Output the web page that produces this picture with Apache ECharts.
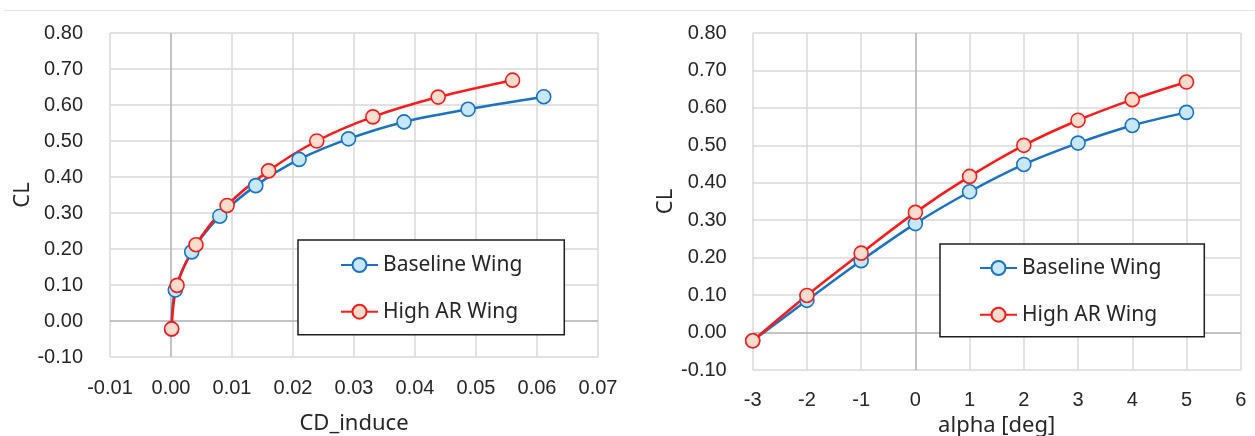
<!DOCTYPE html>
<html>
<head>
<meta charset="utf-8">
<title>Lift vs induced drag and angle of attack</title>
<script src="https://cdn.jsdelivr.net/npm/echarts@6/dist/echarts.min.js"></script>
<style>
  html, body { margin: 0; padding: 0; background: #ffffff; }
  #chart { width: 1255px; height: 436px; }
</style>
</head>
<body>
<div id="chart"></div>
<script>
// Angle of attack [deg]
const alphaBaseline = [-3, -2, -1, 0, 1, 2, 3, 4, 5, 6];
const alphaHighAR = [-3, -2, -1, 0, 1, 2, 3, 4, 5];

// Lift coefficient
const clBaseline = [-0.022, 0.086, 0.192, 0.291, 0.376, 0.449, 0.506, 0.553, 0.588, 0.623];
const clHighAR = [-0.022, 0.099, 0.212, 0.321, 0.417, 0.500, 0.567, 0.622, 0.669];

// Induced drag coefficient
const cdiBaseline = [0.0001, 0.0007, 0.0034, 0.0080, 0.0139, 0.0210, 0.0291, 0.0382, 0.0487, 0.0611];
const cdiHighAR = [0.0001, 0.0010, 0.0041, 0.0092, 0.0160, 0.0239, 0.0331, 0.0438, 0.0560];

// Only alpha up to 5 deg is plotted on the right-hand chart
const alphaPlotMax = 5;

const seriesNames = ['Baseline Wing', 'High AR Wing'];

const BLUE = '#1a72c4';
const BLUE_FILL = '#c6e8f8';
const RED = '#ff1a1a';
const RED_FILL = '#fbdccd';

const zip = (xs, ys) => xs.map((x, i) => [x, ys[i]]);
const upTo = (xs, ys, max) => zip(xs, ys).filter(p => p[0] <= max);

const tickFont = { fontFamily: 'Liberation Sans, Arial, sans-serif', fontSize: 20, color: '#262626' };
const nameFont = { fontFamily: 'Noto Sans, sans-serif', fontSize: 22, color: '#262626' };
const gridLine = { show: true, lineStyle: { color: '#d9d9d9', width: 1.5 } };

function valueAxis(gridIndex, min, max, interval, extra) {
  return Object.assign({
    type: 'value',
    gridIndex: gridIndex,
    min: min,
    max: max,
    interval: interval,
    axisLine: { show: false, onZero: false },
    axisTick: { show: false },
    splitLine: gridLine,
    nameLocation: 'middle',
    nameTextStyle: nameFont
  }, extra);
}

function labels(margin, digits) {
  return Object.assign({
    margin: margin,
    formatter: v => digits == null ? String(Math.round(v)) : v.toFixed(digits)
  }, tickFont);
}

// Axis lines through the origin, drawn beneath the curves
function zeroLines() {
  return {
    silent: true,
    symbol: 'none',
    z: 1,
    label: { show: false },
    lineStyle: { color: '#b8b8b8', width: 1.5, type: 'solid' },
    emphasis: { disabled: true },
    data: [{ xAxis: 0 }, { yAxis: 0 }]
  };
}

function curve(name, data, axisIndex, color, fill, withZero) {
  const s = {
    name: name,
    type: 'line',
    xAxisIndex: axisIndex,
    yAxisIndex: axisIndex,
    data: data,
    smooth: 0.35,
    symbol: 'circle',
    symbolSize: 14,
    showAllSymbol: true,
    lineStyle: { color: color, width: 2.5 },
    itemStyle: { color: fill, borderColor: color, borderWidth: 1.6 },
    emphasis: { disabled: true },
    z: 2
  };
  if (withZero) s.markLine = zeroLines();
  return s;
}

function legendBox(left, top, padding) {
  return {
    data: seriesNames,
    orient: 'vertical',
    left: left,
    top: top,
    padding: padding,
    itemGap: 24.7,
    itemWidth: 37,
    itemHeight: 17.5,
    borderColor: '#1e1e1e',
    borderWidth: 1.5,
    backgroundColor: '#ffffff',
    selectedMode: false,
    textStyle: { fontFamily: 'Noto Sans, sans-serif', fontSize: 21, lineHeight: 22, color: '#262626' }
  };
}

const chart = echarts.init(document.getElementById('chart'), null, { renderer: 'canvas' });

chart.setOption({
  animation: false,
  backgroundColor: '#ffffff',
  graphic: [{
    type: 'line',
    shape: { x1: 4, y1: 10.5, x2: 1255, y2: 10.5 },
    style: { stroke: '#e6e6e6', lineWidth: 1 },
    silent: true
  }],
  grid: [
    { left: 110, right: 657, top: 33, bottom: 79, containLabel: false, outerBoundsMode: 'none' },
    { left: 752.7, right: 14.3, top: 33, bottom: 66, containLabel: false, outerBoundsMode: 'none' }
  ],
  xAxis: [
    valueAxis(0, -0.01, 0.07, 0.01, { name: 'CD_induce', nameGap: 56, axisLabel: labels(21, 2) }),
    valueAxis(1, -3, 6, 1, { name: 'alpha [deg]', nameGap: 43, axisLabel: labels(20, null) })
  ],
  yAxis: [
    valueAxis(0, -0.1, 0.8, 0.1, { name: 'CL', nameGap: 70, nameRotate: 90, axisLabel: labels(27, 2) }),
    valueAxis(1, -0.1, 0.8, 0.1, { name: 'CL', nameGap: 72, nameRotate: 90, axisLabel: labels(26, 2) })
  ],
  legend: [
    legendBox(298, 240, [14, 42, 12, 42]),
    legendBox(940, 244, [13, 43, 11, 39])
  ],
  series: [
    curve(seriesNames[0], zip(cdiBaseline, clBaseline), 0, BLUE, BLUE_FILL, true),
    curve(seriesNames[1], zip(cdiHighAR, clHighAR), 0, RED, RED_FILL, false),
    curve(seriesNames[0], upTo(alphaBaseline, clBaseline, alphaPlotMax), 1, BLUE, BLUE_FILL, true),
    curve(seriesNames[1], upTo(alphaHighAR, clHighAR, alphaPlotMax), 1, RED, RED_FILL, false)
  ]
});
</script>
</body>
</html>
